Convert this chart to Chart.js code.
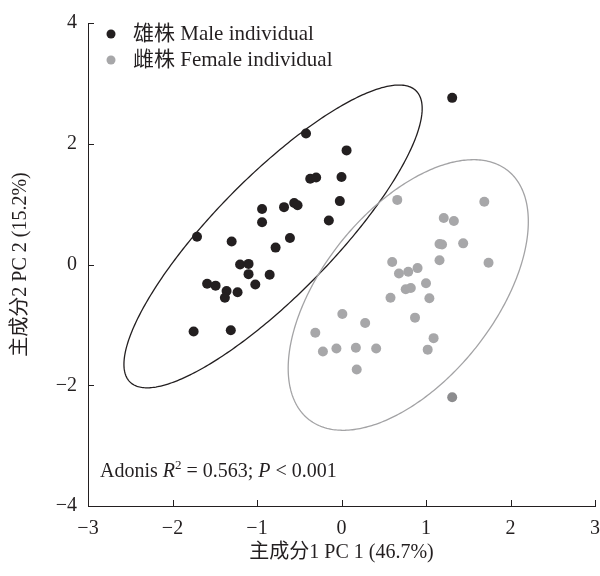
<!DOCTYPE html>
<html>
<head>
<meta charset="utf-8">
<script src="https://cdn.jsdelivr.net/npm/chart.js@4.4.1/dist/chart.umd.min.js"></script>
<style>
  html, body { margin: 0; padding: 0; background: #fff; }
</style>
</head>
<body>
<canvas id="pca" width="600" height="576"></canvas>
<script>
// PC scores
const maleX = [-0.42, 0.06, -0.37, -0.30, 0.00, -0.02, -0.15, -0.94, -0.94, -0.68, -0.56, -0.52, -0.61, -0.78, -1.71,
  -1.30, -1.20, -1.10, -1.10, -0.85, -1.02, -1.59, -1.49, -1.36, -1.23, -1.38, -1.75, -1.31, 1.31];
const maleY = [2.17, 1.89, 1.42, 1.44, 1.45, 1.05, 0.73, 0.92, 0.70, 0.95, 1.02, 0.98, 0.44, 0.28, 0.46,
  0.38, 0.00, 0.01, -0.16, -0.17, -0.33, -0.32, -0.35, -0.44, -0.46, -0.55, -1.11, -1.09, 2.76];
const femaleX = [0.66, 1.69, 1.21, 1.33, 1.16, 1.19, 1.44, 1.74, 1.16, 0.60, 0.68, 0.79, 0.90, 1.00, 0.76,
  0.82, 1.04, 0.58, 0.87, 0.01, 0.28, -0.31, 1.09, 1.02, -0.22, -0.06, 0.17, 0.41, 0.18, 1.31];
const femaleY = [1.07, 1.04, 0.77, 0.72, 0.34, 0.33, 0.35, 0.03, 0.07, 0.04, -0.15, -0.12, -0.06, -0.31, -0.41,
  -0.39, -0.56, -0.55, -0.88, -0.82, -0.97, -1.13, -1.22, -1.41, -1.44, -1.39, -1.38, -1.39, -1.74, -2.20];
const femaleOutlier = 29; // drawn a shade darker in the original

const groupLabels = ['雄株 Male individual', '雌株 Female individual'];
const groupColors = ['#231f20', '#a7a7a9'];

// confidence ellipses: centre, semi-axes and tilt (degrees), in PC units
const ellipseCenter = [[-0.81, 0.465], [0.79, -0.505]];
const ellipseAxes = [[2.96, 0.80], [2.41, 1.11]];
const ellipseTilt = [56.5, 65.5];
const ellipseColors = ['#231f20', '#a3a3a5'];

const xTitle = '主成分1 PC 1 (46.7%)';
const yTitle = '主成分2 PC 2 (15.2%)';

const serif = '"Liberation Serif", "Times New Roman", "Noto Sans CJK SC", serif';
const ink = '#231f20';

function toPoints(xs, ys) {
  return xs.map((x, i) => ({ x: x, y: ys[i] }));
}

function minus(v) {
  return String(v).replace('-', '\u2212');
}

const ellipsePlugin = {
  id: 'ellipses',
  beforeDatasetsDraw(chart) {
    const ctx = chart.ctx;
    const xs = chart.scales.x;
    const ys = chart.scales.y;
    for (let k = 0; k < ellipseCenter.length; k++) {
      const [cx, cy] = ellipseCenter[k];
      const [a, b] = ellipseAxes[k];
      const th = ellipseTilt[k] * Math.PI / 180;
      ctx.save();
      ctx.beginPath();
      for (let i = 0; i <= 360; i++) {
        const t = i * Math.PI / 180;
        const dx = a * Math.cos(t), dy = b * Math.sin(t);
        const px = xs.getPixelForValue(cx + dx * Math.cos(th) - dy * Math.sin(th));
        const py = ys.getPixelForValue(cy + dx * Math.sin(th) + dy * Math.cos(th));
        if (i === 0) ctx.moveTo(px, py); else ctx.lineTo(px, py);
      }
      ctx.closePath();
      ctx.strokeStyle = ellipseColors[k];
      ctx.lineWidth = 1.3;
      ctx.stroke();
      ctx.restore();
    }
  }
};

const decorPlugin = {
  id: 'decor',
  afterDraw(chart) {
    const ctx = chart.ctx;
    const area = chart.chartArea;
    const xs = chart.scales.x;
    const ys = chart.scales.y;
    ctx.save();
    // inward tick marks
    ctx.strokeStyle = ink;
    ctx.lineWidth = 1;
    ctx.beginPath();
    xs.ticks.forEach(t => {
      const px = Math.round(xs.getPixelForValue(t.value)) + 0.5;
      ctx.moveTo(px, area.bottom);
      ctx.lineTo(px, area.bottom - 6);
    });
    ys.ticks.forEach(t => {
      const py = Math.round(ys.getPixelForValue(t.value)) + 0.5;
      ctx.moveTo(area.left, py);
      ctx.lineTo(area.left + 6, py);
    });
    ctx.stroke();

    // legend
    ctx.font = '21px ' + serif;
    ctx.textBaseline = 'middle';
    ctx.textAlign = 'left';
    groupLabels.forEach((label, i) => {
      const y = area.top + 11 + i * 26;
      ctx.fillStyle = groupColors[i];
      ctx.beginPath();
      ctx.arc(area.left + 23, y, 4.5, 0, Math.PI * 2);
      ctx.fill();
      ctx.fillStyle = ink;
      ctx.fillText(label, area.left + 45, y);
    });

    // Adonis note
    const parts = [
      ['Adonis ', ''], ['R', 'italic '], ['2', 'sup'], [' = 0.563; ', ''], ['P', 'italic '], [' < 0.001', '']
    ];
    let x = area.left + 12;
    const base = area.bottom - 29;
    ctx.textBaseline = 'alphabetic';
    parts.forEach(([txt, style]) => {
      if (style === 'sup') {
        ctx.font = '13px ' + serif;
        ctx.fillText(txt, x, base - 8);
      } else {
        ctx.font = style + '20px ' + serif;
        ctx.fillText(txt, x, base);
      }
      x += ctx.measureText(txt).width;
    });
    ctx.restore();
  }
};

new Chart(document.getElementById('pca'), {
  type: 'scatter',
  data: {
    datasets: [
      {
        label: groupLabels[0],
        data: toPoints(maleX, maleY),
        pointRadius: 5,
        pointBorderWidth: 0,
        pointBackgroundColor: groupColors[0],
      },
      {
        label: groupLabels[1],
        data: toPoints(femaleX, femaleY),
        pointRadius: 5,
        pointBorderWidth: 0,
        pointBackgroundColor: femaleX.map((v, i) => i === femaleOutlier ? '#8c8c8e' : groupColors[1]),
      },
    ]
  },
  options: {
    responsive: false,
    animation: false,
    events: [],
    layout: { padding: { top: 16, right: 4, left: 0, bottom: 0 } },
    plugins: {
      legend: { display: false },
      tooltip: { enabled: false },
    },
    scales: {
      x: {
        type: 'linear',
        min: -3,
        max: 3,
        grid: { display: false, drawTicks: false },
        border: { display: true, color: ink, width: 1 },
        ticks: {
          stepSize: 1,
          padding: 11,
          color: ink,
          font: { family: serif, size: 20 },
          callback: v => minus(v),
        },
        title: {
          display: true,
          text: xTitle,
          color: ink,
          font: { family: serif, size: 20 },
          padding: { top: 0, bottom: 11 },
        },
        afterFit(scale) {
          scale.height = 70;
          scale.paddingRight = 0;
        },
      },
      y: {
        type: 'linear',
        min: -4,
        max: 4,
        grid: { display: false, drawTicks: false },
        border: { display: true, color: ink, width: 1 },
        ticks: {
          stepSize: 2,
          padding: 11,
          color: ink,
          font: { family: serif, size: 20 },
          callback: v => minus(v),
        },
        title: {
          display: true,
          text: yTitle,
          color: ink,
          font: { family: serif, size: 20 },
          padding: { top: 9, bottom: 0 },
        },
        afterFit(scale) {
          scale.width = 88;
        },
      },
    },
  },
  plugins: [ellipsePlugin, decorPlugin],
});
</script>
</body>
</html>
